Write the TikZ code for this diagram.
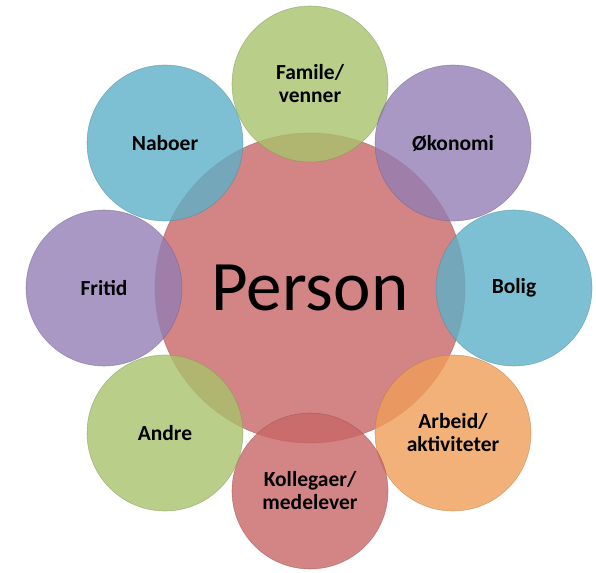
\documentclass[tikz,border=0pt]{standalone}
\usepackage{fontspec}
\setmainfont{Carlito}
\definecolor{cgreen}{RGB}{168,194,108}
\definecolor{cpurple}{RGB}{146,126,180}
\definecolor{cblue}{RGB}{94,176,200}
\definecolor{corange}{RGB}{238,158,88}
\definecolor{cred}{RGB}{200,102,102}
\begin{document}
\begin{tikzpicture}[x=1pt,y=-1pt,
  bubble/.style={circle, minimum size=156pt, inner sep=0pt, fill opacity=0.8, text opacity=1,
    draw=#1!75!black, draw opacity=0.5, line width=0.6pt, fill=#1,
    text=black, font=\bfseries\fontsize{21.5}{23}\selectfont, align=center},
  core/.style={circle, minimum size=310pt, inner sep=0pt, fill=cred, fill opacity=0.8, text opacity=1,
    draw=cred!75!black, draw opacity=0.5, line width=0.6pt,
    text=black, font=\fontsize{71}{80}\selectfont}]
\useasboundingbox (0,0) rectangle (596,572);
\node[core] (person) at (310,288) {Person};
\node[bubble=cgreen] (famile) at (310,84) {Famile/\\venner};
\node[bubble=cpurple] (okonomi) at (453,143) {Økonomi};
\node[bubble=cblue] (bolig) at (514,288) {Bolig};
\node[bubble=corange] (arbeid) at (453,433) {Arbeid/\\aktiviteter};
\node[bubble=cred] (kollegaer) at (310,491) {Kollegaer/\\medelever};
\node[bubble=cgreen] (andre) at (165,433) {Andre};
\node[bubble=cpurple] (fritid) at (104,288) {Fritid};
\node[bubble=cblue] (naboer) at (165,143) {Naboer};
\end{tikzpicture}
\end{document}
